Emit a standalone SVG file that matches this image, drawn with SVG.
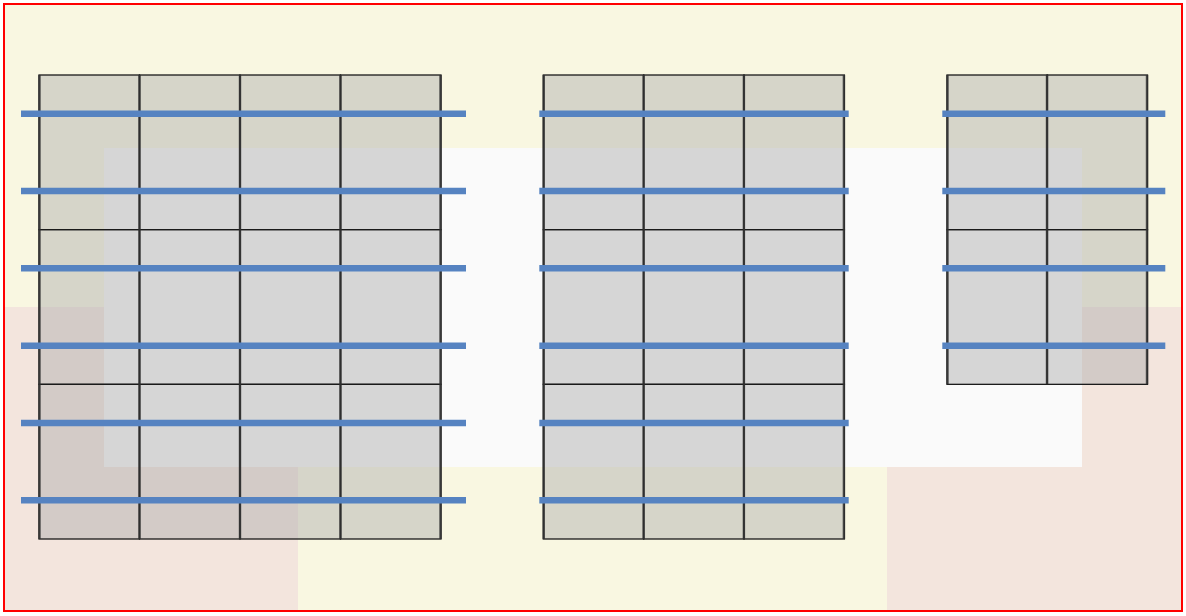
<svg xmlns="http://www.w3.org/2000/svg" width="1186" height="616" viewBox="0 0 1186 616">
  <style>
    .tile { fill: rgb(175,175,175); fill-opacity: 0.48; stroke: #1a1a1a; stroke-width: 1.3; }
    .edge { stroke: #333333; stroke-width: 2.4; stroke-opacity: 0.85; }
    .rail { stroke: #5683c1; stroke-width: 6.5; fill: none; }
  </style>
  <defs>
    <rect id="t" class="tile" width="100.5" height="154.67"/>
  </defs>
  <g id="background">
    <rect x="0" y="0" width="1186" height="616" fill="#ffffff"/>
    <rect x="4" y="4" width="1178" height="607" fill="#f9f7e1"/>
    <rect x="4" y="307" width="294" height="304" fill="#f3e5dd"/>
    <rect x="887" y="307" width="295" height="304" fill="#f3e5dd"/>
    <rect x="104" y="148" width="978" height="319" fill="#fafafa"/>
  </g>
  <g id="block-left">
    <use href="#t" x="39" y="75"/><use href="#t" x="139.5" y="75"/><use href="#t" x="240" y="75"/><use href="#t" x="340.5" y="75"/>
    <use href="#t" x="39" y="229.67"/><use href="#t" x="139.5" y="229.67"/><use href="#t" x="240" y="229.67"/><use href="#t" x="340.5" y="229.67"/>
    <use href="#t" x="39" y="384.33"/><use href="#t" x="139.5" y="384.33"/><use href="#t" x="240" y="384.33"/><use href="#t" x="340.5" y="384.33"/>
    <line class="edge" x1="39.5" y1="75" x2="39.5" y2="539"/>
    <line class="edge" x1="139.5" y1="75" x2="139.5" y2="539"/>
    <line class="edge" x1="240" y1="75" x2="240" y2="539"/>
    <line class="edge" x1="340.5" y1="75" x2="340.5" y2="539"/>
    <line class="edge" x1="440.5" y1="75" x2="440.5" y2="539"/>
  </g>
  <g id="block-middle">
    <use href="#t" x="543.3" y="75"/><use href="#t" x="643.6" y="75"/><use href="#t" x="743.9" y="75"/>
    <use href="#t" x="543.3" y="229.67"/><use href="#t" x="643.6" y="229.67"/><use href="#t" x="743.9" y="229.67"/>
    <use href="#t" x="543.3" y="384.33"/><use href="#t" x="643.6" y="384.33"/><use href="#t" x="743.9" y="384.33"/>
    <line class="edge" x1="543.8" y1="75" x2="543.8" y2="539"/>
    <line class="edge" x1="643.6" y1="75" x2="643.6" y2="539"/>
    <line class="edge" x1="743.9" y1="75" x2="743.9" y2="539"/>
    <line class="edge" x1="843.9" y1="75" x2="843.9" y2="539"/>
  </g>
  <g id="block-right">
    <use href="#t" x="947" y="75"/><use href="#t" x="1047" y="75"/>
    <use href="#t" x="947" y="229.67"/><use href="#t" x="1047" y="229.67"/>
    <line class="edge" x1="947.5" y1="75" x2="947.5" y2="384.3"/>
    <line class="edge" x1="1047" y1="75" x2="1047" y2="384.3"/>
    <line class="edge" x1="1147" y1="75" x2="1147" y2="384.3"/>
  </g>
  <g id="connectors">
    <line class="rail" x1="21" y1="113.7" x2="466" y2="113.7"/>
    <line class="rail" x1="21" y1="191" x2="466" y2="191"/>
    <line class="rail" x1="21" y1="268.3" x2="466" y2="268.3"/>
    <line class="rail" x1="21" y1="345.7" x2="466" y2="345.7"/>
    <line class="rail" x1="21" y1="423" x2="466" y2="423"/>
    <line class="rail" x1="21" y1="500.3" x2="466" y2="500.3"/>
    <line class="rail" x1="539.3" y1="113.7" x2="848.7" y2="113.7"/>
    <line class="rail" x1="539.3" y1="191" x2="848.7" y2="191"/>
    <line class="rail" x1="539.3" y1="268.3" x2="848.7" y2="268.3"/>
    <line class="rail" x1="539.3" y1="345.7" x2="848.7" y2="345.7"/>
    <line class="rail" x1="539.3" y1="423" x2="848.7" y2="423"/>
    <line class="rail" x1="539.3" y1="500.3" x2="848.7" y2="500.3"/>
    <line class="rail" x1="942.3" y1="113.7" x2="1165.3" y2="113.7"/>
    <line class="rail" x1="942.3" y1="191" x2="1165.3" y2="191"/>
    <line class="rail" x1="942.3" y1="268.3" x2="1165.3" y2="268.3"/>
    <line class="rail" x1="942.3" y1="345.7" x2="1165.3" y2="345.7"/>
  </g>
  <rect id="frame" x="4" y="4" width="1178" height="607" fill="none" stroke="#ff0000" stroke-width="2"/>
</svg>
